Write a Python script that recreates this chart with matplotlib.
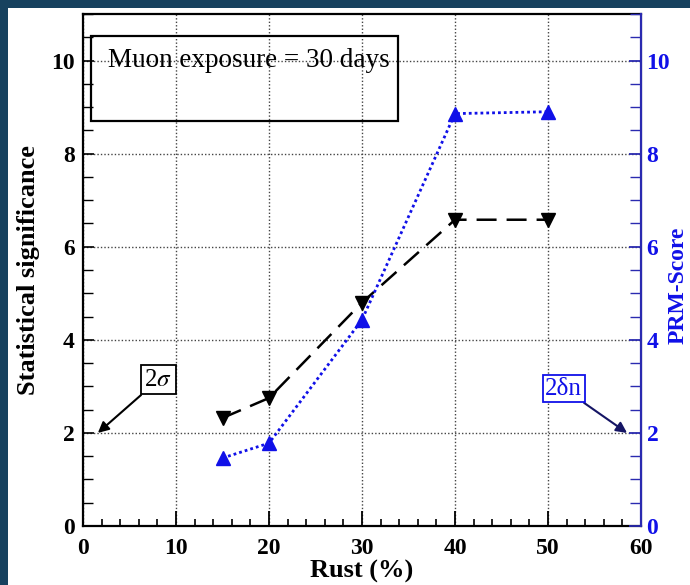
import matplotlib
matplotlib.use("Agg")
import matplotlib.pyplot as plt
from matplotlib.patches import Rectangle
from matplotlib.ticker import MultipleLocator

rust = [15, 20, 30, 40, 50]
significance = [2.32, 2.75, 4.80, 6.58, 6.58]
prm_score = [1.46, 1.78, 4.43, 8.86, 8.90]

x_ticks = [0, 10, 20, 30, 40, 50, 60]
y_ticks = [0, 2, 4, 6, 8, 10]

plt.rcParams['font.family'] = ['Liberation Serif', 'DejaVu Serif']
plt.rcParams['mathtext.fontset'] = 'stix'

fig = plt.figure(figsize=(6.9, 5.85), dpi=100)
fig.patch.set_facecolor('#17425f')
bg = Rectangle((8 / 690, 0), 1, 1 - 8 / 585,
               transform=fig.transFigure, facecolor='white',
               edgecolor='none', zorder=-10)
fig.patches.append(bg)

ax = fig.add_axes([83 / 690, 59 / 585, 558 / 690, 512 / 585])
ax.set_facecolor('white')
ax2 = ax.twinx()

navy = '#2a2ab0'
blue = '#1010e8'

ax.plot(rust, significance, color='black', lw=1.8, dashes=(8, 4),
        marker='v', markersize=10, zorder=3)
ax2.plot(rust, prm_score, color=blue, lw=2.0, linestyle=(0, (1, 1.1)),
         marker='^', markersize=10, zorder=3)

ax.set_xlim(0, 60)
ax.set_ylim(0, 11)
ax2.set_ylim(0, 11)
ax.set_xticks(x_ticks)
ax.set_yticks(y_ticks)
ax2.set_yticks(y_ticks)
ax.xaxis.set_minor_locator(MultipleLocator(2))
ax.yaxis.set_minor_locator(MultipleLocator(0.5))
ax2.yaxis.set_minor_locator(MultipleLocator(0.5))

ax.grid(True, which='major', linestyle=(0, (1, 1.5)), color='#444444', lw=1.0)
ax.set_axisbelow(True)

for lab in ax.get_xticklabels() + ax.get_yticklabels():
    lab.set_fontweight('bold')
for lab in ax2.get_yticklabels():
    lab.set_fontweight('bold')

ax.tick_params(axis='x', which='major', direction='in', length=11, width=1.3,
               labelsize=17, pad=9, top=False)
ax.tick_params(axis='x', which='minor', direction='in', length=5, width=1.2, top=False)
ax.tick_params(axis='y', which='major', direction='in', length=8, width=1.2,
               labelsize=17, pad=6, right=False)
ax.tick_params(axis='y', which='minor', direction='in', length=7, width=1.0, right=False)
ax2.tick_params(axis='y', which='major', direction='in', length=9, width=1.3,
                labelsize=17, pad=4, colors=navy, labelcolor=blue)
ax2.tick_params(axis='y', which='minor', direction='in', length=8, width=1.0,
                colors=navy)

for s in ['left', 'bottom', 'top']:
    ax.spines[s].set_linewidth(1.6)
ax2.spines['right'].set_color(navy)
ax2.spines['right'].set_linewidth(1.6)
ax2.spines['left'].set_visible(False)
ax2.spines['top'].set_visible(False)
ax2.spines['bottom'].set_visible(False)

ax.set_xlabel('Rust (%)', fontsize=19, fontweight='bold', labelpad=0.5)
ax.set_ylabel('Statistical significance', fontsize=19, fontweight='bold', labelpad=8)
ax2.set_ylabel('PRM-Score', fontsize=17, fontweight='bold', color=blue, labelpad=0)
ax2.yaxis.set_label_coords(1.047, 0.47)

ax.add_patch(Rectangle((0.86, 8.71), 33.0, 1.81, fill=False, edgecolor='black',
                       lw=1.6, zorder=4))
ax.text(2.7, 10.0, 'Muon exposure = 30 days', fontsize=19.5, va='center', ha='left',
        zorder=5)

ax.annotate('2$\\sigma$', xy=(1.6, 2.0), xytext=(8.1, 3.14), fontsize=18,
            ha='center', va='center', color='black',
            bbox=dict(boxstyle='square,pad=0.14', fc='white', ec='black', lw=1.3),
            arrowprops=dict(arrowstyle='-|>', color='black', lw=1.5,
                            mutation_scale=16, shrinkA=0, shrinkB=0), zorder=6)
ax.annotate('2δn', xy=(58.5, 2.0), xytext=(51.7, 2.95), fontsize=18,
            ha='center', va='center', color=blue,
            bbox=dict(boxstyle='square,pad=0.1', fc='white', ec=blue, lw=1.3),
            arrowprops=dict(arrowstyle='-|>', color='#151565', lw=1.5,
                            mutation_scale=16, shrinkA=0, shrinkB=0), zorder=6)

fig.savefig('out.png', dpi=100, facecolor=fig.get_facecolor())
